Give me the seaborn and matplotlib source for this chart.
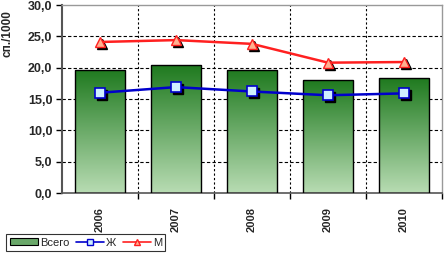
import numpy as np
import pandas as pd
import seaborn as sns
import matplotlib
matplotlib.use("Agg")
import matplotlib.pyplot as plt
import matplotlib.transforms as mtransforms
from matplotlib.colors import LinearSegmentedColormap
from matplotlib.patches import Patch
from matplotlib.lines import Line2D

years = ["2006", "2007", "2008", "2009", "2010"]
total = [19.7, 20.4, 19.7, 18.0, 18.3]
women = [16.0, 16.9, 16.2, 15.6, 15.9]
men = [24.1, 24.4, 23.8, 20.8, 20.9]

sns.set_theme(style="white")
plt.rcParams['font.family'] = ['Liberation Sans', 'DejaVu Sans']

fig = plt.figure(figsize=(4.46, 2.57), dpi=100)
ax = fig.add_axes([0.139, 0.249, 0.852, 0.7315])

df = pd.DataFrame({"year": years, "total": total})
sns.barplot(data=df, x="year", y="total", ax=ax, width=0.67,
            color="#2e8b2e", edgecolor="black", linewidth=1.0, zorder=2)

cmap = LinearSegmentedColormap.from_list("g", ["#b8dcb3", "#1f7a1f"])
grad = np.linspace(0, 1, 256).reshape(-1, 1)
for p in list(ax.patches):
    x0, y0 = p.get_x(), p.get_y()
    w, h = p.get_width(), p.get_height()
    im = ax.imshow(grad, cmap=cmap, origin="lower", aspect="auto",
                   extent=[x0, x0 + w, y0, y0 + h], zorder=2.5)
    im.set_clip_path(p)
    p.set_facecolor("none")
    p.set_zorder(3)

xs = np.arange(len(years))
shadow = mtransforms.offset_copy(ax.transData, fig=fig, x=2, y=-2, units="dots")
ax.plot(xs, women, linestyle="none", marker="s", markersize=6.5, color="black",
        transform=shadow, zorder=4)
ax.plot(xs, men, linestyle="none", marker="^", markersize=6.5, color="black",
        transform=shadow, zorder=4)
ax.plot(xs, women, color="#0000cc", linewidth=1.8, marker="s", markersize=6.5,
        markerfacecolor="#cfefff", markeredgecolor="#0000cc", markeredgewidth=1.2, zorder=5)
ax.plot(xs, men, color="#ff2020", linewidth=1.8, marker="^", markersize=6.5,
        markerfacecolor="#ffb090", markeredgecolor="#ff2020", markeredgewidth=1.0, zorder=5)

ax.set_xlim(-0.5, 4.5)
ax.set_ylim(0, 30)
ax.set_yticks(np.arange(0, 31, 5))
ax.set_yticklabels([f"{v:.1f}".replace(".", ",") for v in np.arange(0, 31, 5)],
                   fontsize=9, fontweight="bold")
ax.set_xticks(xs)
ax.set_xticklabels(years, rotation=90, fontsize=8, fontweight="bold")
ax.set_xticks(np.arange(0.5, 4.6, 1), minor=True)
ax.set_xlabel("")
ax.set_ylabel("сп./1000", fontsize=8.5, fontweight="bold")
ax.yaxis.set_label_coords(-0.128, 0.85)

for y in np.arange(5, 30, 5):
    ax.axhline(y, color="black", linestyle=(0, (3, 2)), linewidth=0.8, zorder=1)
for x in np.arange(0.5, 4.5, 1):
    ax.axvline(x, color="black", linestyle=(0, (2, 2)), linewidth=0.8, zorder=1)

ax.tick_params(axis="y", length=4, width=1, color="black", pad=3, left=True)
ax.tick_params(axis="x", which="major", length=0, pad=10)
ax.tick_params(axis="x", which="minor", length=4, width=1, color="black", bottom=True)
ax.spines["left"].set_color("#555555")
ax.spines["left"].set_linewidth(1.5)
ax.spines["bottom"].set_color("#555555")
ax.spines["bottom"].set_linewidth(1.2)
for s in ["top", "right"]:
    ax.spines[s].set_color("#999999")
    ax.spines[s].set_linewidth(1.0)

handles = [Patch(facecolor="#6aa86a", edgecolor="black", linewidth=0.8, label="Всего"),
           Line2D([0], [0], color="#0000cc", marker="s", markerfacecolor="#cfefff",
                  markersize=5, linewidth=1.2, label="Ж"),
           Line2D([0], [0], color="#ff2020", marker="^", markerfacecolor="#ffb090",
                  markersize=5, linewidth=1.2, label="М")]
leg = fig.legend(handles=handles, loc="lower left", bbox_to_anchor=(0.002, 0.002),
                 ncol=3, fontsize=8, frameon=True, fancybox=False,
                 handlelength=2.5, handletextpad=0.2, columnspacing=0.6,
                 borderpad=0.3, handleheight=0.6)
leg.get_frame().set_edgecolor("black")
leg.get_frame().set_linewidth(0.8)

fig.savefig("out.png", dpi=100)
